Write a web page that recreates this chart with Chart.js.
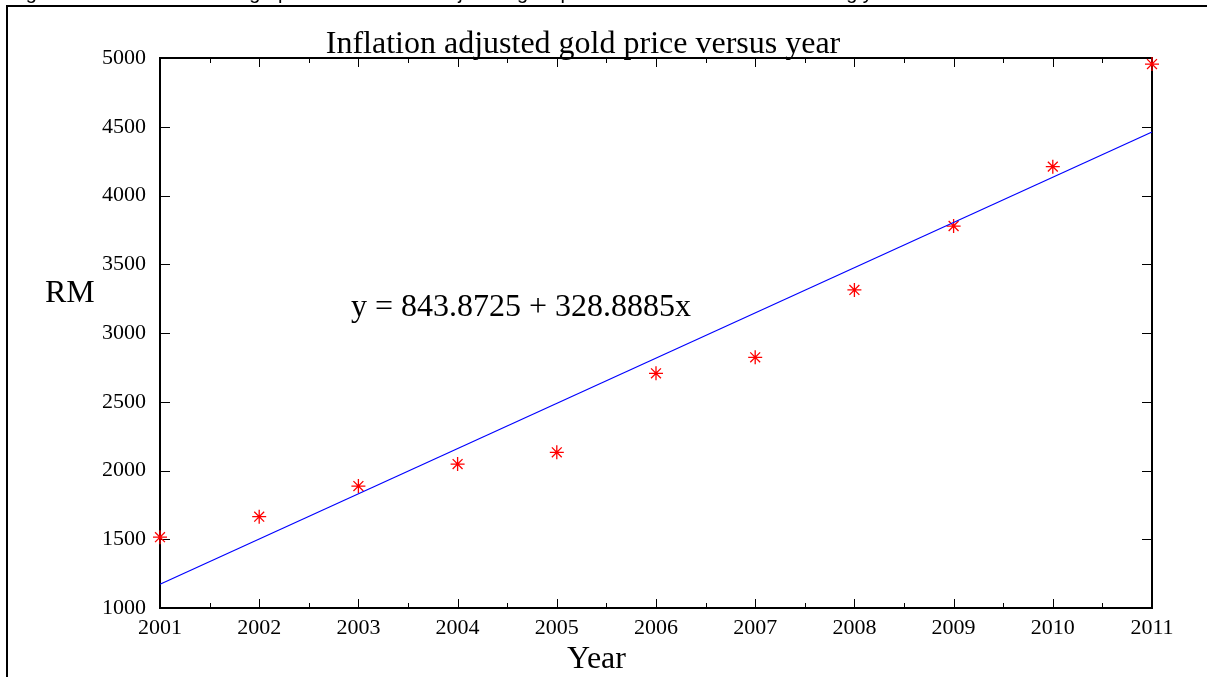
<!DOCTYPE html>
<html>
<head>
<meta charset="utf-8">
<script src="https://cdn.jsdelivr.net/npm/chart.js@4/dist/chart.umd.min.js"></script>
<style>
  html, body { margin: 0; padding: 0; background: #fff; }
  #wrap { width: 1207px; height: 677px; position: relative; }
</style>
</head>
<body>
<div id="wrap"><canvas id="goldChart" width="1207" height="677"></canvas></div>
<script>
const years = [2001, 2002, 2003, 2004, 2005, 2006, 2007, 2008, 2009, 2010, 2011];
const goldPrice = [1515, 1664, 1887, 2047, 2132, 2707, 2823, 3313, 3778, 4210, 4956];

// regression y = a + b*x, with x counted from 2000
const fitIntercept = 843.8725;
const fitSlope = 328.8885;
const fitYears = [2001, 2011];

const chartTitle = 'Inflation adjusted gold price versus year';
const captionText = 'Figure 4.10: The trend line graph of the inflation adjusted gold price versus time for the following year';
const yAxisLabel = 'RM';
const xAxisLabel = 'Year';

const serif = '"Liberation Serif", "Times New Roman", serif';

const scatterPoints = years.map((yr, i) => ({x: yr, y: goldPrice[i]}));
const fitPoints = fitYears.map(yr => ({x: yr, y: fitIntercept + fitSlope * (yr - 2000)}));

// box round the plot with inward ticks on all four sides
const framePlugin = {
    id: 'frame',
    beforeDatasetsDraw(chart) {
        const {ctx, chartArea: a, scales} = chart;
        const xs = scales.x, ys = scales.y;
        ctx.save();
        ctx.strokeStyle = '#000';
        ctx.lineWidth = 1;
        ctx.beginPath();
        for (let v = 2001; v <= 2011; v += 0.5) {
            const px = Math.round(xs.getPixelForValue(v)) + 0.5;
            const len = Number.isInteger(v) ? 9 : 5;
            ctx.moveTo(px, a.bottom); ctx.lineTo(px, a.bottom - len);
            ctx.moveTo(px, a.top); ctx.lineTo(px, a.top + len);
        }
        ys.ticks.forEach(t => {
            const py = Math.round(ys.getPixelForValue(t.value)) + 0.5;
            ctx.moveTo(a.left, py); ctx.lineTo(a.left + 10, py);
            ctx.moveTo(a.right, py); ctx.lineTo(a.right - 10, py);
        });
        ctx.stroke();
        ctx.lineWidth = 2;
        ctx.strokeRect(a.left, a.top, a.right - a.left, a.bottom - a.top);
        ctx.restore();
    },
    afterDraw(chart) {
        const {ctx} = chart;
        ctx.save();
        ctx.fillStyle = '#000';
        // outer page frame
        ctx.strokeStyle = '#000';
        ctx.lineWidth = 2;
        ctx.beginPath();
        ctx.moveTo(7, 700); ctx.lineTo(7, 6); ctx.lineTo(1220, 6);
        ctx.stroke();
        // caption line above the frame, mostly off the top
        ctx.font = '20px "Liberation Sans", Arial, sans-serif';
        ctx.textBaseline = 'alphabetic';
        ctx.textAlign = 'left';
        ctx.fillText(captionText, 9, -1);

        ctx.font = '32px ' + serif;
        ctx.textAlign = 'center';
        ctx.fillText(chartTitle, 583, 53);
        ctx.textAlign = 'left';
        ctx.fillText(`y = ${fitIntercept} + ${fitSlope}x`, 351, 316);
        ctx.fillText(yAxisLabel, 45, 302);
        ctx.fillText(xAxisLabel, 567, 668);
        ctx.restore();
    }
};

new Chart(document.getElementById('goldChart'), {
    type: 'scatter',
    data: {
        datasets: [{
            type: 'line',
            label: 'fit',
            data: fitPoints,
            borderColor: '#0000ff',
            borderWidth: 1.2,
            pointRadius: 0,
            fill: false,
            clip: false
        }, {
            label: 'price',
            data: scatterPoints,
            pointStyle: 'star',
            pointRadius: 7,
            borderColor: '#ff0000',
            backgroundColor: '#ff0000',
            borderWidth: 1.3,
            clip: false
        }]
    },
    options: {
        responsive: false,
        animation: false,
        layout: {padding: {top: 58, right: 55, left: 0, bottom: 0}},
        plugins: {legend: {display: false}, tooltip: {enabled: false}},
        scales: {
            x: {
                type: 'linear',
                min: 2001,
                max: 2011,
                grid: {display: false, drawTicks: false},
                border: {display: false},
                ticks: {
                    stepSize: 1,
                    padding: 7,
                    color: '#000',
                    font: {family: serif, size: 22},
                    maxRotation: 0,
                    callback: v => String(v)
                },
                afterFit: s => { s.height = 69; }
            },
            y: {
                min: 1000,
                max: 5000,
                grid: {display: false, drawTicks: false},
                border: {display: false},
                ticks: {
                    stepSize: 500,
                    padding: 14,
                    color: '#000',
                    font: {family: serif, size: 22},
                    callback: v => String(v)
                },
                afterFit: s => { s.width = 160; }
            }
        }
    },
    plugins: [framePlugin]
});
</script>
</body>
</html>
